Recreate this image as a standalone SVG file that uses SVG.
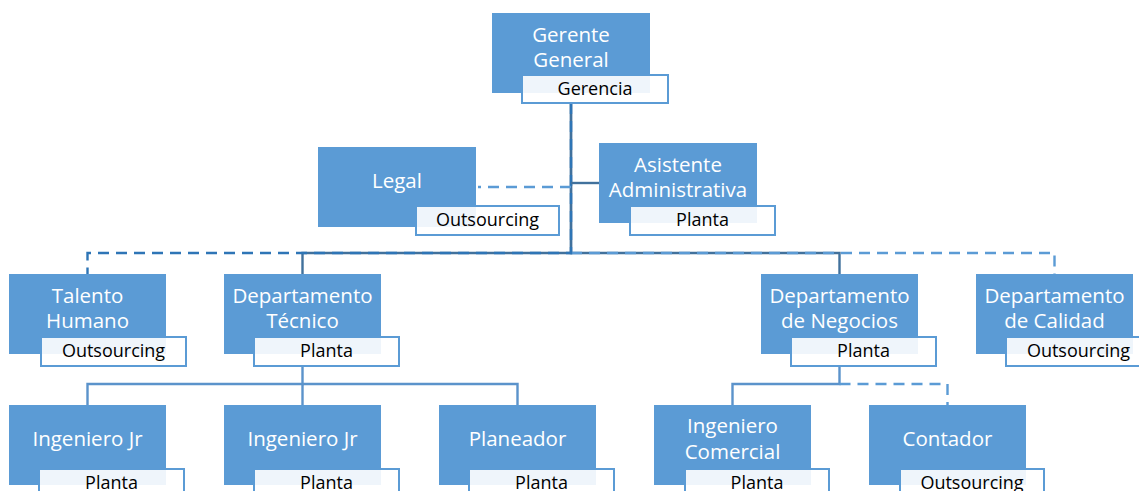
<svg xmlns="http://www.w3.org/2000/svg" width="1139" height="491" viewBox="0 0 1139 491">
  <style>
    .box { fill: #5B9BD5; }
    .tag { fill: #FFFFFF; fill-opacity: 0.9; stroke: #5B9BD5; stroke-width: 2; }
    .title { font-family: "Open Sans", "Liberation Sans", sans-serif; font-size: 20.5px; fill: #FFFFFF; text-anchor: middle; }
    .sub { font-family: "Open Sans", "Liberation Sans", sans-serif; font-size: 18px; fill: #000000; text-anchor: middle; }
    .solid { fill: none; stroke: #41719C; stroke-width: 2.4; }
    .solid-lt { fill: none; stroke: #5B93CB; stroke-width: 2.4; }
    .dash-dk { fill: none; stroke: #2E75B6; stroke-width: 2.4; stroke-dasharray: 11 7; }
    .dash-lt { fill: none; stroke: #5B9BD5; stroke-width: 2.4; stroke-dasharray: 11 7; }
  </style>

  <!-- reporting lines -->
  <g id="connectors">
    <path class="solid" d="M571,103 V253 H302.5 V274"/>
    <path class="solid" d="M571,103 V253 H839.5 V274"/>
    <path class="dash-lt" d="M571,253 H1054.5 V274"/>
    <path class="dash-dk" d="M571,103 V253 H87.5 V274"/>
    <path class="dash-lt" d="M571,187 H478"/>
    <path class="solid" d="M571,183 H599"/>
    <path class="solid-lt" d="M302.5,366 V384 H87.5 V405"/>
    <path class="solid-lt" d="M302.5,384 V405"/>
    <path class="solid-lt" d="M302.5,384 H517.5 V405"/>
    <path class="solid-lt" d="M839.5,366 V384 H732.5 V405"/>
    <path class="dash-lt" d="M839.5,384 H947.5 V405"/>
  </g>

  <g id="gerente-general">
    <rect class="box" x="492" y="13" width="158" height="80"/>
    <text class="title" x="571" y="42">Gerente</text>
    <text class="title" x="571" y="67">General</text>
    <rect class="tag" x="522" y="75" width="146" height="28"/>
    <text class="sub" x="595" y="95">Gerencia</text>
  </g>

  <g id="legal">
    <rect class="box" x="318" y="147" width="158" height="80"/>
    <text class="title" x="397" y="188">Legal</text>
    <rect class="tag" x="416" y="206" width="143" height="29"/>
    <text class="sub" x="487.5" y="226">Outsourcing</text>
  </g>

  <g id="asistente-administrativa">
    <rect class="box" x="599" y="143" width="158" height="80"/>
    <text class="title" x="678" y="172">Asistente</text>
    <text class="title" x="678" y="197">Administrativa</text>
    <rect class="tag" x="630" y="206" width="145" height="29"/>
    <text class="sub" x="702.5" y="226">Planta</text>
  </g>

  <g id="talento-humano">
    <rect class="box" x="9" y="274" width="157" height="80"/>
    <text class="title" x="87.5" y="303">Talento</text>
    <text class="title" x="87.5" y="328">Humano</text>
    <rect class="tag" x="41" y="337" width="145" height="29"/>
    <text class="sub" x="113.5" y="357">Outsourcing</text>
  </g>

  <g id="departamento-tecnico">
    <rect class="box" x="224" y="274" width="157" height="80"/>
    <text class="title" x="302.5" y="303">Departamento</text>
    <text class="title" x="302.5" y="328">Técnico</text>
    <rect class="tag" x="254" y="337" width="145" height="29"/>
    <text class="sub" x="326.5" y="357">Planta</text>
  </g>

  <g id="departamento-negocios">
    <rect class="box" x="761" y="274" width="157" height="80"/>
    <text class="title" x="839.5" y="303">Departamento</text>
    <text class="title" x="839.5" y="328">de Negocios</text>
    <rect class="tag" x="791" y="337" width="145" height="29"/>
    <text class="sub" x="863.5" y="357">Planta</text>
  </g>

  <g id="departamento-calidad">
    <rect class="box" x="976" y="274" width="157" height="80"/>
    <text class="title" x="1054.5" y="303">Departamento</text>
    <text class="title" x="1054.5" y="328">de Calidad</text>
    <rect class="tag" x="1006" y="337" width="145" height="29"/>
    <text class="sub" x="1078.5" y="357">Outsourcing</text>
  </g>

  <g id="ingeniero-jr-1">
    <rect class="box" x="9" y="405" width="157" height="80"/>
    <text class="title" x="87.5" y="446">Ingeniero Jr</text>
    <rect class="tag" x="39" y="469" width="145" height="29"/>
    <text class="sub" x="111.5" y="489">Planta</text>
  </g>

  <g id="ingeniero-jr-2">
    <rect class="box" x="224" y="405" width="157" height="80"/>
    <text class="title" x="302.5" y="446">Ingeniero Jr</text>
    <rect class="tag" x="254" y="469" width="145" height="29"/>
    <text class="sub" x="326.5" y="489">Planta</text>
  </g>

  <g id="planeador">
    <rect class="box" x="439" y="405" width="157" height="80"/>
    <text class="title" x="517.5" y="446">Planeador</text>
    <rect class="tag" x="469" y="469" width="145" height="29"/>
    <text class="sub" x="541.5" y="489">Planta</text>
  </g>

  <g id="ingeniero-comercial">
    <rect class="box" x="654" y="405" width="157" height="80"/>
    <text class="title" x="732.5" y="433">Ingeniero</text>
    <text class="title" x="732.5" y="459">Comercial</text>
    <rect class="tag" x="685" y="469" width="144" height="29"/>
    <text class="sub" x="757" y="489">Planta</text>
  </g>

  <g id="contador">
    <rect class="box" x="869" y="405" width="157" height="80"/>
    <text class="title" x="947.5" y="446">Contador</text>
    <rect class="tag" x="900" y="469" width="144" height="29"/>
    <text class="sub" x="972" y="489">Outsourcing</text>
  </g>
</svg>
